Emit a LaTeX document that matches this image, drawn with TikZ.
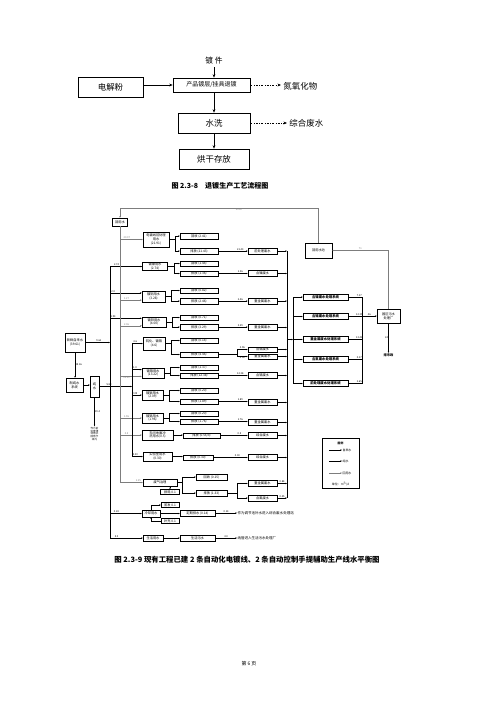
\documentclass[tikz,border=0pt]{standalone}
\usepackage{fontspec}
\setmainfont{Noto Sans CJK SC}
\usetikzlibrary{arrows.meta, positioning, calc}
\definecolor{ReuseGray}{RGB}{125, 125, 125}

\begin{document}
\begin{tikzpicture}[
    x=0.5mm, y=-0.5mm,
    >={Stealth[length=2.6pt, width=2pt]},
    bigbox/.style = {
        rectangle, draw, line width=0.8pt,
        align=center, inner sep=1pt,
        font=\fontsize{12}{14}\selectfont
    },
    wbox/.style = {
        rectangle, draw, line width=0.4pt, fill=white,
        align=center, inner sep=0.5pt,
        font=\fontsize{4.6}{5.2}\selectfont
    },
    usebox/.style = {wbox, line width=0.6pt},
    subbox/.style = {wbox, line width=0.6pt, minimum width=19mm, minimum height=2.75mm},
    wastebox/.style = {wbox, line width=0.8pt, minimum width=14.5mm, minimum height=2.8mm},
    treatbox/.style = {
        wbox, line width=0.8pt, minimum width=22.5mm, minimum height=3mm,
        font=\fontsize{4.8}{5.4}\selectfont\bfseries
    },
    tag/.style = {font=\fontsize{3.6}{4.2}\selectfont, inner sep=0.6pt, align=center},
    flow/.style = {->, line width=0.4pt},
    pureflow/.style = {->, line width=0.75pt},
    reuseflow/.style = {->, line width=0.4pt, color=ReuseGray},
    bigflow/.style = {-{Stealth[length=5pt, width=4pt]}, line width=0.8pt},
    gasflow/.style = {bigflow, dash dot}
]
\useasboundingbox (0,0) rectangle (500,707);

% ===== FIG 2.3-8 =====
\node[bigbox, minimum width=32.5mm, minimum height=10mm] (powder) at (110.5,87) {电解粉};
\node[bigbox, minimum width=38.5mm, minimum height=7mm,
      font=\fontsize{8.5}{10}\selectfont] (strip) at (211.5,85) {产品镀层/挂具退镀};
\node[font=\fontsize{11}{13}\selectfont] (part) at (214,61) {镀\ 件};
\node[font=\fontsize{12}{14}\selectfont, anchor=west] (nox) at (281,86) {氮氧化物};
\node[bigbox, minimum width=36mm, minimum height=10mm] (rinse) at (214,123) {水洗};
\node[font=\fontsize{12}{14}\selectfont, anchor=west] (mixw) at (287,123) {综合废水};
\node[bigbox, minimum width=35mm, minimum height=10mm] (dry) at (214,159) {烘干存放};
\node[font=\bfseries\fontsize{10}{12}\selectfont] (cap1) at (220,186) {图\ 2.3-8\quad 退镀生产工艺流程图};

\draw[bigflow] (part.south) -- (part.south |- strip.north);
\draw[bigflow] (powder.east |- strip) -- (strip.west);
\draw[gasflow] (strip.east) -- (strip.east -| nox.west);
\draw[bigflow] (rinse.north |- strip.south) -- (rinse.north);
\draw[gasflow] (rinse.east) -- (rinse.east -| mixw.west);
\draw[bigflow] (rinse) -- (dry);

% ===== BUS LINES =====
\coordinate (tapx)   at (110,0);
\coordinate (reusex) at (120,0);
\coordinate (purex)  at (132,0);
\coordinate (splitx) at (237,0);
\coordinate (colx)   at (287,0);
\coordinate (tlx)    at (293,0);
\coordinate (trx)    at (362,0);
\coordinate (reusetop) at (120,208);

% ===== WATER SOURCES =====
\node[wbox, line width=0.8pt, minimum width=10mm, minimum height=9.5mm] (fresh) at (75,342.5) {新鲜自来水\\(39.61)};
\node[wbox, line width=0.9pt, minimum width=8.5mm, minimum height=7mm] (pw) at (74.5,385) {制纯水\\系统};
\node[wbox, minimum width=4.5mm, minimum height=10.5mm] (pure) at (94.5,386.5) {纯\\水};
\node[tag] (brine) at (94.5,434) {作为前\\处理漂\\洗用水\\回用于\\线内};
\node[wbox, minimum width=7.5mm, minimum height=4mm] (reuse) at (120,222) {回用水};

% ===== USERS =====
\node[usebox, minimum width=13mm,   minimum height=7.5mm] (m1) at (156,239.5) {电镀线前处理\\用水\\(21.91)};
\node[usebox, minimum width=12.5mm, minimum height=4mm]   (m2) at (155,266.5) {镀镍用水\\(2.74)};
\node[usebox, minimum width=11.5mm, minimum height=5.5mm] (m3) at (153.5,296.5) {镀铜用水\\(3.28)};
\node[usebox, minimum width=12mm,   minimum height=5mm]   (m4) at (154,322) {镀锌用水\\(4.00)};
\node[usebox, minimum width=11mm,   minimum height=6.5mm] (m5) at (154,343.5) {钝化、镀铬\\(4.6)};
\node[usebox, minimum width=11mm,   minimum height=5mm]   (m6) at (153,373) {镀铬用水\\(13.22)};
\node[usebox, minimum width=10.5mm, minimum height=5mm]   (m7) at (152.5,395) {镀银用水\\(2.09)};
\node[usebox, minimum width=10.5mm, minimum height=5mm]   (m8) at (152.5,418) {镀锡用水\\(1.96)};
\node[usebox, minimum width=15.5mm, minimum height=5mm]   (m9) at (157.5,435) {车间地面冲\\洗用水(0.5)};
\node[usebox, minimum width=14.5mm, minimum height=4.5mm] (m10) at (157.5,456.5) {实验室用水\\(0.30)};
\node[usebox, minimum width=17mm,   minimum height=3.5mm] (fq) at (160,482.5) {废气治理};
\node[wbox, minimum width=9.5mm, minimum height=2.5mm] (loss11) at (170,492) {损耗 0.1};
\node[usebox, minimum width=9mm,    minimum height=3.5mm] (plan) at (151,513.5) {冷却用水};
\node[wbox, minimum width=9mm, minimum height=2.5mm] (evap) at (170,505) {蒸发 0.1};
\node[wbox, minimum width=9mm, minimum height=2.5mm] (makeup) at (170,521) {补充 0.1};
\node[usebox, minimum width=10mm,   minimum height=3mm]   (life) at (153,538) {生活用水};

% ===== RECOVERY / DISCHARGE =====
\node[subbox] (r1) at (199,236)   {回收 (2.41)};
\node[subbox] (e1) at (199,251)   {排放 (21.43)};
\node[subbox] (r2) at (199,263.5) {回收 (1.44)};
\node[subbox] (e2) at (199,273.5) {排放 (1.36)};
\node[subbox] (r3) at (199,290.5) {回收 (0.82)};
\node[subbox] (e3) at (199,301)   {排放 (2.46)};
\node[subbox] (r4) at (199,317.5) {回收 (0.71)};
\node[subbox] (e4) at (199,327)   {排放 (3.29)};
\node[subbox] (r5) at (199,340.5) {回收 (0.14)};
\node[subbox] (e5) at (199,354.5) {排放 (4.46)};
\node[subbox] (r6) at (199,367.5) {回收 (1.37)};
\node[subbox] (e6) at (199,375.5) {排放 (12.38)};
\node[subbox] (r7) at (199,390.5) {回收 (0.20)};
\node[subbox] (e7) at (199,401.5) {排放 (1.89)};
\node[subbox] (r8) at (199,413.5) {回收 (0.20)};
\node[subbox] (e8) at (199,421.5) {排放 (1.76)};
\node[subbox, minimum width=18.5mm] (e9)  at (201.5,435.5) {排放 (0.5t/d)};
\node[subbox, minimum width=15mm]   (e10) at (198,457.5)   {排放 (0.30)};
\node[subbox, minimum width=15.5mm] (r11) at (211.5,477)   {回收 (0.15)};
\node[subbox, minimum width=15.5mm] (e11) at (211.5,493)   {排放 (1.33)};
\node[subbox, minimum width=17.5mm] (d12) at (197.5,513)   {定期排水 (0.14)};
\node[subbox, minimum width=17.5mm] (d13) at (197.5,538)   {生活污水};
\node[tag, anchor=west, font=\fontsize{5}{6}\selectfont] (txt12) at (237,513) {作为调节池补水进入综合废水处理站};
\node[tag, anchor=west, font=\fontsize{5}{6}\selectfont] (txt13) at (237,538) {纳管进入生活污水处理厂};

% ===== WASTEWATER =====
\node[wastebox] (w1)  at (262.5,251)   {前处理废水};
\node[wastebox] (w2)  at (262.5,273.5) {含镍废水};
\node[wastebox] (w3)  at (262.5,301)   {重金属废水};
\node[wastebox] (w4)  at (262.5,327.5) {重金属废水};
\node[wastebox, minimum height=2.6mm] (w5a) at (262.5,349.5) {含铬废水};
\node[wastebox, minimum height=2.6mm] (w5b) at (262.5,356.5) {重金属废水};
\node[wastebox] (w6)  at (262.5,375.5) {含铬废水};
\node[wastebox] (w7)  at (262.5,402.5) {重金属废水};
\node[wastebox] (w8)  at (262.5,422.5) {重金属废水};
\node[wastebox] (w9)  at (262.5,435.5) {综合废水};
\node[wastebox] (w10) at (262.5,457.5) {综合废水};
\node[wastebox] (w11a) at (262.5,483.5) {重金属废水};
\node[wastebox] (w11b) at (262.5,498)   {含氰废水};

% ===== TREATMENT =====
\node[treatbox] (t1) at (325.5,297)   {含镍废水处理系统};
\node[treatbox] (t2) at (325.5,316.5) {含铬废水处理系统};
\node[treatbox] (t3) at (325.5,339.5) {重金属废水处理系统};
\node[treatbox] (t4) at (325.5,359.5) {含氰废水处理系统};
\node[treatbox] (t5) at (325.5,383.5) {前处理废水处理系统};
\node[wbox, line width=0.8pt, minimum width=13.5mm, minimum height=7.5mm] (pool) at (318.5,250.5) {回用水池};
\node[wbox, line width=0.6pt, minimum width=11.5mm, minimum height=7mm] (plant) at (388.5,316) {园区污水\\处理厂};
\node[tag, font=\bfseries\fontsize{4.6}{5.2}\selectfont] (city) at (388.5,355) {排市政};

% ===== LEGEND =====
\node[wbox, line width=0.7pt, minimum width=18.5mm, minimum height=25mm] (legend) at (340.5,463) {};
\node[tag, font=\bfseries\fontsize{4}{5}\selectfont] (lgtitle) at (340.5,443) {图例};
\node[tag, anchor=west, font=\fontsize{4.2}{5}\selectfont] (lgtap)   at (342,450) {自来水};
\node[tag, anchor=west, font=\fontsize{4.2}{5}\selectfont] (lgpure)  at (342,461) {纯水};
\node[tag, anchor=west, font=\fontsize{4.2}{5}\selectfont] (lgreuse) at (342,473) {回用水};
\node[tag, font=\fontsize{4.2}{5}\selectfont] (lgunit) at (340.5,484) {单位：m$^3$/d};
\draw[flow]      ([xshift=-6.5mm]lgtap.west)   -- (lgtap.west);
\draw[pureflow]  ([xshift=-6.5mm]lgpure.west)  -- (lgpure.west);
\draw[reuseflow] ([xshift=-6.5mm]lgreuse.west) -- (lgreuse.west);

% ===== SOURCE ARROWS =====
\draw[flow] (fresh.east) -- node[tag, above, pos=0.55] {9.61} (fresh.east -| tapx);
\draw[flow] (fresh.south) -- node[tag, right] {25.16} (fresh.south |- pw.north);
\draw[flow] (pw.east) -- (pw.east -| pure.west);
\draw[pureflow] (pure.east) -- node[tag, above, pos=0.3] {5.89} (pure.east -| purex);
\draw[flow] (pure.south) -- node[tag, right] {19.4} (brine.north);

% tap water bus
\draw[line width=0.4pt] (m2.west -| tapx) -- (life.west -| tapx);
\draw[flow] (m2.west -| tapx)   -- node[tag, above, pos=0.2] {2.74} (m2.west);
\draw[flow] (m3.163 -| tapx)    -- node[tag, above, pos=0.1] {2.0} (m3.163);
\draw[flow] (m4.163 -| tapx)    -- node[tag, above, pos=0.1] {1.94} (m4.163);
\draw[flow] (plan.west -| tapx) -- node[tag, above, pos=0.2] {0.24} (plan.west);
\draw[flow] (life.west -| tapx) -- node[tag, above, pos=0.2] {5.0} (life.west);

% reuse bus
\draw[reuseflow] (pool.north) |- node[tag, below, pos=0.7] {30.67} (reusetop) -- (reuse.north);
\draw[reuseflow] (reuse.south) |- node[tag, above, pos=0.9] {1.25} (fq.west);
\draw[reuseflow] (m1.west -| reusex) -- node[tag, above, pos=0.3] {20.07} (m1.west);
\draw[reuseflow] (m3.197 -| reusex) -- node[tag, above, pos=0.3] {1.27} (m3.197);
\draw[reuseflow] (m4.197 -| reusex) -- node[tag, above, pos=0.3] {2.06} (m4.197);
\draw[reuseflow] (m6.197 -| reusex) -- node[tag, below, pos=0.3] {12.22} (m6.197);
\draw[reuseflow] (m8.west -| reusex) -- node[tag, above, pos=0.3] {1.96} (m8.west);
\draw[reuseflow] (m9.west -| reusex) -- node[tag, above, pos=0.3] {0.5} (m9.west);

% pure water bus
\draw[line width=0.75pt] (m5.west -| purex) -- (m10.west -| purex);
\draw[pureflow] (m5.west -| purex)  -- node[tag, above, pos=0.3] {4.6} (m5.west);
\draw[pureflow] (m6.163 -| purex)   -- node[tag, above, pos=0.3] {1.0} (m6.163);
\draw[pureflow] (m7.west -| purex)  -- node[tag, above, pos=0.3] {2.09} (m7.west);
\draw[pureflow] (m10.west -| purex) -- node[tag, above, pos=0.3] {0.30} (m10.west);

% ===== USERS TO RECOVERY / DISCHARGE =====
\foreach \i in {1,...,8} {
    \draw[flow] (m\i.east) -- ++(6,0) coordinate (s\i) |- (r\i.west);
    \draw[flow] (s\i) |- (e\i.west);
}
\draw[flow] (m9.east) -- (m9.east -| e9.west);
\draw[flow] (m10.east) -- (m10.east -| e10.west);
\draw[flow] (fq.east) -- ++(5,0) coordinate (s11) |- (r11.west);
\draw[flow] (s11) |- (e11.west);
\draw[flow] (fq.south -| loss11) -- (loss11.north);
\draw[flow] (plan.north) |- (evap.west);
\draw[flow] (makeup.west) -| (plan.south);
\draw[flow] (plan.east) -- (plan.east -| d12.west);
\draw[flow] (life.east) -- (life.east -| d13.west);
\draw[flow] (d12.east) -- node[tag, above] {0.14} (txt12.west);
\draw[flow] (d13.east) -- node[tag, above] {4.0} (txt13.west);

% ===== DISCHARGE TO WASTEWATER =====
\draw[flow] (e1.east)  -- node[tag, above, pos=0.75] {21.43} (e1.east -| w1.west);
\draw[flow] (e2.east)  -- node[tag, above, pos=0.75] {1.36}  (e2.east -| w2.west);
\draw[flow] (e3.east)  -- node[tag, above, pos=0.75] {2.46}  (e3.east -| w3.west);
\draw[flow] (e4.east)  -- node[tag, above, pos=0.75] {3.29}  (e4.east -| w4.west);
\draw (e5.east) -- (e5.east -| splitx) coordinate (s5b);
\draw[flow] (s5b) |- node[tag, above, pos=0.75] {3.96} (w5a.west);
\draw[flow] (s5b) |- node[tag, below, pos=0.75] {0.50} (w5b.west);
\draw[flow] (e6.east)  -- node[tag, above, pos=0.75] {12.38} (e6.east -| w6.west);
\draw[flow] (e7.east)  -- node[tag, above, pos=0.75] {1.89}  (e7.east -| w7.west);
\draw[flow] (e8.east)  -- node[tag, above, pos=0.75] {1.76}  (e8.east -| w8.west);
\draw[flow] (e9.east)  -- node[tag, above, pos=0.7]  {0.5}   (e9.east -| w9.west);
\draw[flow] (e10.east) -- node[tag, above, pos=0.7]  {0.30}  (e10.east -| w10.west);
\draw (e11.east) -- (e11.east -| splitx) coordinate (s11b);
\draw[flow] (s11b) |- (w11a.west);
\draw[flow] (s11b) |- (w11b.west);

% ===== COLLECTOR TO TREATMENT =====
\draw[line width=0.6pt] (w1.east -| colx) -- (w11b.east -| colx);
\foreach \w in {w1,w2,w3,w4,w5a,w5b,w6,w7,w8,w9,w10} {
    \draw[flow] (\w.east) -- (\w.east -| colx);
}
\draw[flow] (w11a.east) -- node[tag, above] {0.88} (w11a.east -| colx);
\draw[flow] (w11b.east) -- node[tag, above] {0.45} (w11b.east -| colx);
\draw[flow] (t3.west -| colx) -- (t3.west -| tlx);
\draw[line width=0.6pt] (t1.west -| tlx) -- (t5.west -| tlx);
\draw[line width=0.6pt] (t1.east -| trx) -- (t5.east -| trx);
\foreach \t/\q in {t1/7.27, t2/12.39, t3/13.41, t4/0.27, t5/2.65} {
    \draw[flow] (\t.west -| tlx) -- (\t.west);
    \draw (\t.east) -- node[tag, above, pos=0.8] {\q} (\t.east -| trx);
}
\draw[flow] (plant.west -| trx) -- node[tag, above] {46} (plant.west);
\draw[reuseflow] (plant.north) |- node[tag, above, pos=0.75] {71} (pool.east);
\draw[flow] (plant.south) -- node[tag, left] {24} (city.north);

% ===== CAPTION =====
\node[font=\bfseries\fontsize{10.5}{12}\selectfont] (cap2) at (247,560)
    {图 2.3-9 现有工程已建 2 条自动化电镀线、2 条自动控制手提辅助生产线水平衡图};
\node[font=\fontsize{7}{8}\selectfont] (pageno) at (249,664) {第 6 页};
\end{tikzpicture}
\end{document}
